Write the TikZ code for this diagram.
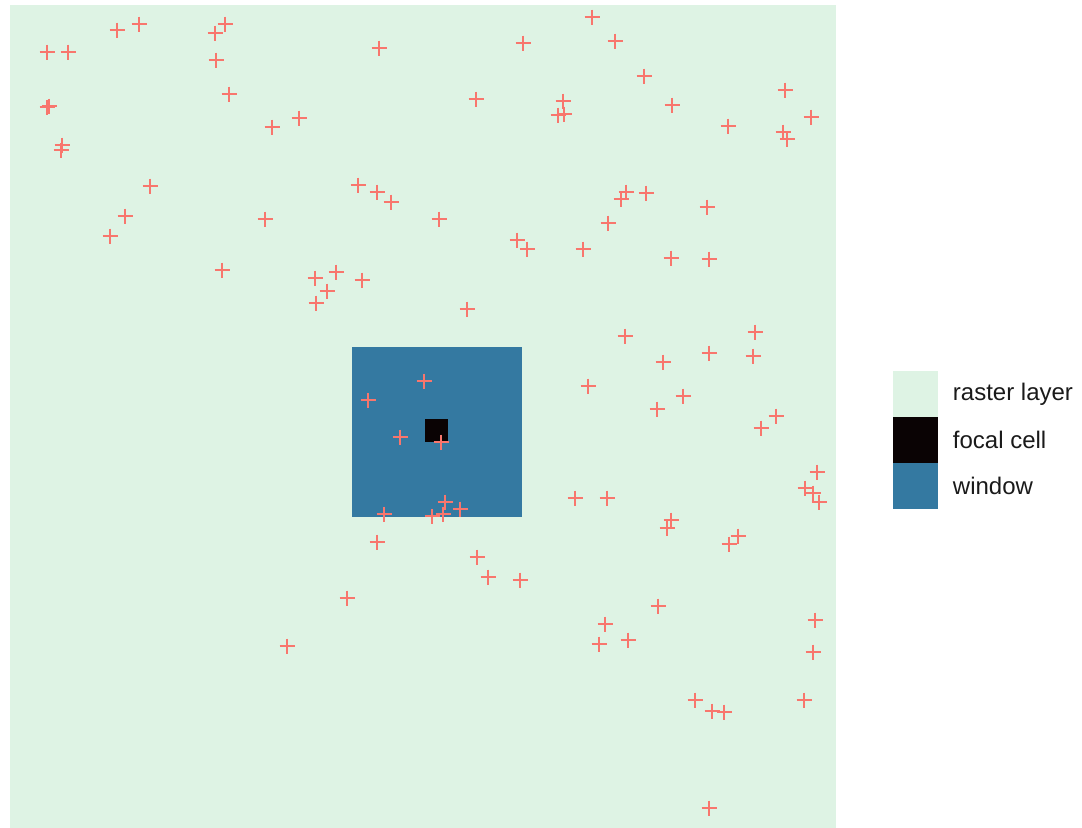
\documentclass[tikz,border=0pt]{standalone}
\usepackage{fontspec}
\setmainfont{Liberation Sans}
\usepackage{tikz}
\usetikzlibrary{positioning}
\definecolor{rastergreen}{RGB}{222, 243, 228}
\definecolor{windowblue}{RGB}{52, 121, 161}
\definecolor{focalblack}{RGB}{10, 3, 4}
\definecolor{pointred}{RGB}{248, 118, 109}
\definecolor{legendtext}{RGB}{26, 26, 26}

\begin{document}
\begin{tikzpicture}[x=0.75pt, y=-0.75pt,
    pt/.style={draw=pointred, line width=1.6pt},
    legbox/.style={minimum width=33.75pt, minimum height=34.5pt, inner sep=0pt, outer sep=0pt},
    legtext/.style={inner sep=0pt, text=legendtext, font=\fontsize{18}{20}\selectfont}]
    \useasboundingbox (0,0) rectangle (1082,828);

    % Raster layer
    \fill[rastergreen] (10,5) rectangle (836,828);

    % Window and focal cell
    \fill[windowblue] (352,347) rectangle (522,517);
    \fill[focalblack] (425,419) rectangle (448,442);

    % Points
    \foreach \x/\y in {117/30, 139/24, 47/52, 68/52, 215/33, 225/24, 216/60, 229/94,
        47/107, 49/106, 62/145, 61/150, 379/48, 272/127, 299/118, 150/186, 125/216,
        110/236, 265/219, 222/270, 358/185, 377/192, 391/202, 315/278, 336/272,
        327/291, 316/303, 362/280,
        592/17, 523/43, 615/41, 644/76, 785/90, 811/117, 476/99, 563/101, 558/115,
        564/114, 672/105, 728/126, 783/132, 787/139, 626/192, 621/199, 646/193,
        707/207, 439/219, 608/223, 517/240, 527/249, 583/249, 671/258, 709/259,
        467/309,
        424/381, 368/400, 400/437, 441/442, 445/502, 460/509, 384/514, 432/516,
        443/514, 377/542, 477/557, 488/577, 520/580, 347/598, 287/646,
        625/336, 755/332, 663/362, 709/353, 753/356, 588/386, 683/396, 657/409,
        776/416, 761/428, 817/472, 805/488, 813/493, 819/502, 575/498, 607/498,
        671/520, 667/528, 738/536, 729/544,
        658/606, 605/624, 599/644, 628/640, 815/620, 813/652, 695/700, 712/711,
        724/712, 804/700, 709/808}
        {\draw[pt] (\x-7.5,\y) -- (\x+7.5,\y) (\x,\y-7.5) -- (\x,\y+7.5);}

    % Legend
    \node[legbox, fill=rastergreen] (keyraster) at (915.5,394) {};
    \node[legbox, fill=focalblack, below=0pt of keyraster] (keyfocal) {};
    \node[legbox, fill=windowblue, below=0pt of keyfocal] (keywindow) {};
    \node[legtext, right=11pt of keyraster] (labraster) {raster layer};
    \node[legtext, right=11pt of keyfocal] (labfocal) {focal cell};
    \node[legtext, right=11pt of keywindow] (labwindow) {window};
\end{tikzpicture}
\end{document}
